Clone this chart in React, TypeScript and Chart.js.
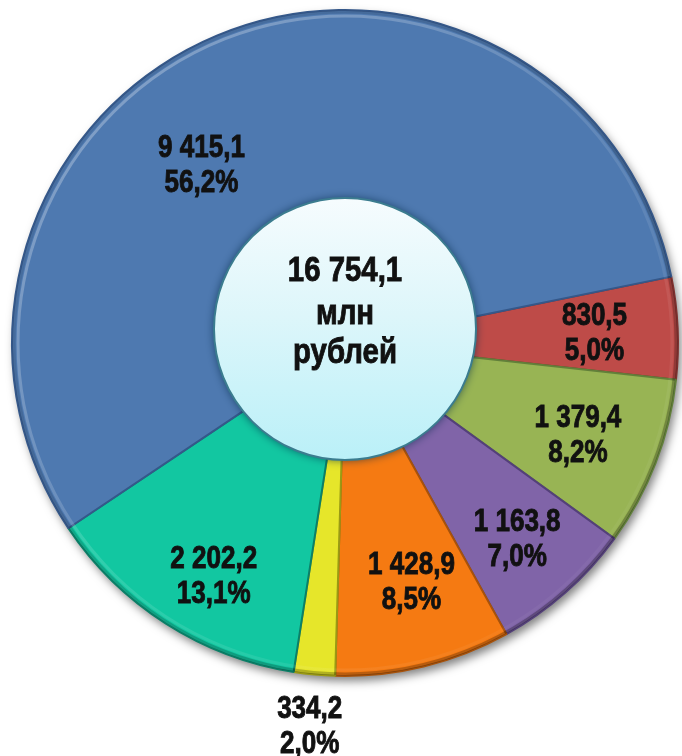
import React, { useEffect, useRef } from "react";
import { Chart, registerables } from "chart.js";

Chart.register(...registerables);

// Data (clockwise from the red slice)
const categories = ["Красный", "Зелёный", "Фиолетовый", "Оранжевый", "Жёлтый", "Бирюзовый", "Синий"];
const values = [830.5, 1379.4, 1163.8, 1428.9, 334.2, 2202.2, 9415.1];
const percents = [5.0, 8.2, 7.0, 8.5, 2.0, 13.1, 56.2];
const centerLines = ["16 754,1", "млн", "рублей"];

// Styles
const colors = ["#BE4B48", "#98B454", "#8064A8", "#F57A12", "#E6E62A", "#12C7A1", "#4E79B0"];
const borders = ["#7E302E", "#62803A", "#54407A", "#A8520A", "#9A9A14", "#0B8068", "#35588A"];
const labelAngleShift = [0, 0, 0, -2, 0, -3, -16];
const labelRadiusFrac = [0.75, 0.75, 0.78, 0.74, 1.15, 0.8, 0.69];

const FONT = '"Liberation Sans", Arial, sans-serif';
const NARROW = 0.84;

function fmt(v: number): string {
  const [i, d] = v.toFixed(1).split(".");
  return i.replace(/\B(?=(\d{3})+(?!\d))/g, " ") + "," + d;
}

function narrowText(ctx: CanvasRenderingContext2D, t: string, x: number, y: number) {
  ctx.save();
  ctx.translate(x, y);
  ctx.scale(NARROW, 1);
  ctx.fillText(t, 0, 0);
  ctx.lineWidth = 0.9;
  ctx.strokeText(t, 0, 0);
  ctx.restore();
}

const shadowPlugin = {
  id: "shadowPlugin",
  beforeDatasetsDraw(chart: any) {
    const ctx = chart.ctx;
    const arc = chart.getDatasetMeta(0).data[0];
    if (!arc) return;
    const { x, y, outerRadius } = arc.getProps(["x", "y", "outerRadius"], true);
    ctx.save();
    ctx.shadowColor = "rgba(0,0,0,0.5)";
    ctx.shadowBlur = 10;
    ctx.shadowOffsetX = 3;
    ctx.shadowOffsetY = 5;
    ctx.beginPath();
    ctx.arc(x, y, outerRadius, 0, Math.PI * 2);
    ctx.fillStyle = "#4E79B0";
    ctx.fill();
    ctx.restore();
  },
};

const centerPlugin = {
  id: "centerPlugin",
  afterDatasetsDraw(chart: any) {
    const ctx = chart.ctx;
    const arc = chart.getDatasetMeta(0).data[0];
    if (!arc) return;
    const { x, y, outerRadius } = arc.getProps(["x", "y", "outerRadius"], true);
    // bevel rim highlight / shade
    ctx.save();
    const rimG = ctx.createLinearGradient(x - outerRadius, y - outerRadius, x + outerRadius, y + outerRadius);
    rimG.addColorStop(0, "rgba(255,255,255,0.35)");
    rimG.addColorStop(0.5, "rgba(255,255,255,0.12)");
    rimG.addColorStop(1, "rgba(255,255,255,0)");
    ctx.beginPath();
    ctx.arc(x, y, outerRadius - 6, 0, Math.PI * 2);
    ctx.lineWidth = 3;
    ctx.strokeStyle = rimG;
    ctx.stroke();
    const shG = ctx.createLinearGradient(x - outerRadius, y - outerRadius, x + outerRadius, y + outerRadius);
    shG.addColorStop(0, "rgba(0,0,0,0.05)");
    shG.addColorStop(1, "rgba(0,0,0,0.3)");
    ctx.beginPath();
    ctx.arc(x, y, outerRadius - 2, 0, Math.PI * 2);
    ctx.lineWidth = 3;
    ctx.strokeStyle = shG;
    ctx.stroke();
    ctx.restore();

    // center disc
    const cx = x;
    const cy = y - 14;
    const r = 131;
    ctx.save();
    ctx.shadowColor = "rgba(0,40,70,0.7)";
    ctx.shadowBlur = 10;
    ctx.beginPath();
    ctx.arc(cx, cy, r, 0, Math.PI * 2);
    const g = ctx.createLinearGradient(cx, cy - r, cx, cy + r);
    g.addColorStop(0, "#F6FCFE");
    g.addColorStop(0.45, "#DDF6FA");
    g.addColorStop(1, "#BAF0F8");
    ctx.fillStyle = g;
    ctx.fill();
    ctx.shadowColor = "transparent";
    ctx.lineWidth = 2;
    ctx.strokeStyle = "#3B7C8F";
    ctx.stroke();
    ctx.fillStyle = "#111";
    ctx.strokeStyle = "#111";
    ctx.font = "bold 35px " + FONT;
    ctx.textAlign = "center";
    ctx.textBaseline = "alphabetic";
    const offs = [-48, -5, 34];
    centerLines.forEach((t, i) => narrowText(ctx, t, cx, cy + offs[i]));
    ctx.restore();
  },
};

const labelPlugin = {
  id: "labelPlugin",
  afterDraw(chart: any) {
    const ctx = chart.ctx;
    const meta = chart.getDatasetMeta(0);
    ctx.save();
    ctx.fillStyle = "#111";
    ctx.strokeStyle = "#111";
    ctx.font = "bold 31px " + FONT;
    ctx.textAlign = "center";
    ctx.textBaseline = "alphabetic";
    meta.data.forEach((el: any, i: number) => {
      const { x, y, startAngle, endAngle, outerRadius } = el.getProps(
        ["x", "y", "startAngle", "endAngle", "outerRadius"],
        true
      );
      const a = (startAngle + endAngle) / 2 + (labelAngleShift[i] * Math.PI) / 180;
      const r = outerRadius * labelRadiusFrac[i];
      const lx = x + Math.cos(a) * r;
      const ly = y + Math.sin(a) * r;
      narrowText(ctx, fmt(values[i]), lx, ly - 6.5);
      narrowText(ctx, percents[i].toFixed(1).replace(".", ",") + "%", lx, ly + 28.5);
    });
    ctx.restore();
  },
};

export default function App() {
  const ref = useRef<HTMLCanvasElement | null>(null);
  useEffect(() => {
    document.body.style.margin = "0";
    if (!ref.current) return;
    const chart = new Chart(ref.current, {
      type: "doughnut",
      data: {
        labels: categories,
        datasets: [
          {
            data: values,
            backgroundColor: colors,
            borderColor: borders,
            borderWidth: 2,
          },
        ],
      },
      options: {
        responsive: false,
        animation: false,
        rotation: 78.5,
        cutout: 110,
        layout: { padding: { left: 11, top: 9, right: 3, bottom: 79 } },
        plugins: {
          legend: { display: false },
          tooltip: { enabled: false },
        },
      },
      plugins: [shadowPlugin, centerPlugin, labelPlugin],
    });
    return () => chart.destroy();
  }, []);
  return (
    <div style={{ width: 682, height: 756, background: "#fff" }}>
      <canvas ref={ref} width={682} height={756} />
    </div>
  );
}
